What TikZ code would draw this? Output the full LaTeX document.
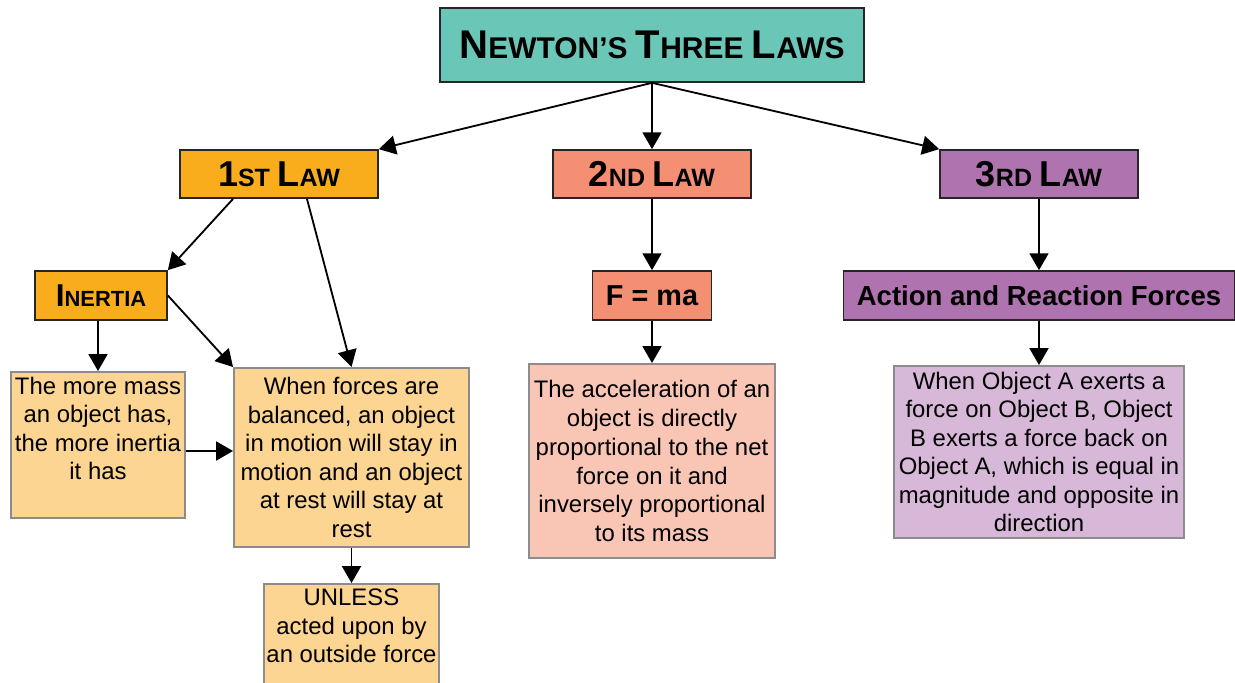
\documentclass[tikz,border=0pt]{standalone}
\usepackage{fontspec}
\setmainfont{Liberation Sans}
\usepackage{xcolor}
\usetikzlibrary{arrows.meta, positioning, calc}

\definecolor{titleteal}{HTML}{6AC7B8}
\definecolor{lawone}{HTML}{F9AD1D}
\definecolor{lawtwo}{HTML}{F48F73}
\definecolor{lawthree}{HTML}{AF73B0}
\definecolor{noteone}{HTML}{FCD592}
\definecolor{notetwo}{HTML}{F9C6B6}
\definecolor{notethree}{HTML}{D8B8D8}
\definecolor{edgegray}{HTML}{8C8C8C}

\newcommand{\bodyfont}{\fontsize{17}{20.3}\selectfont}
\newcommand{\headfont}{\fontsize{19.6}{22}\selectfont\bfseries}
\newcommand{\titlecap}[2]{{\fontsize{28.5}{30}\selectfont #1}{\fontsize{21.3}{24}\selectfont #2}}
\newcommand{\lawcap}[2]{{\fontsize{25.6}{28}\selectfont #1}{\fontsize{17.8}{20}\selectfont #2}}
\newcommand{\smallcap}[2]{{\fontsize{22.5}{25}\selectfont #1}{\fontsize{15.6}{18}\selectfont #2}}

\begin{document}
\begin{tikzpicture}[
    box/.style={rectangle, draw=black!85, line width=1.2pt, inner sep=0pt, align=center, font=\headfont},
    note/.style={rectangle, draw=edgegray, line width=1.4pt, inner sep=0pt, align=center, font=\bodyfont},
    arrow/.style={-{Triangle[length=12pt, width=13.5pt]}, line width=1.3pt}
]
    \useasboundingbox (0, 0) rectangle (30.875, 17.05);

    % Title
    \node[box, fill=titleteal, minimum width=10.6cm, minimum height=1.85cm, font=\fontsize{21.3}{24}\selectfont\bfseries] (title) at (16.3, 15.925)
        {\titlecap{N}{EWTON'S} \titlecap{T}{HREE} \titlecap{L}{AWS}};

    % The three laws
    \node[box, fill=lawone, minimum width=4.95cm, minimum height=1.2cm] (law1) at (6.975, 12.7) {\lawcap{1}{ST} \lawcap{L}{AW}};
    \node[box, fill=lawtwo, minimum width=4.95cm, minimum height=1.2cm] (law2) at (16.3, 12.7) {\lawcap{2}{ND} \lawcap{L}{AW}};
    \node[box, fill=lawthree, minimum width=4.95cm, minimum height=1.2cm] (law3) at (25.975, 12.7) {\lawcap{3}{RD} \lawcap{L}{AW}};

    % Second row
    \node[box, fill=lawone, minimum width=3.3cm, minimum height=1.225cm] (inertia) at (2.525, 9.6625) {\smallcap{I}{NERTIA}};
    \node[box, fill=lawtwo, minimum width=2.975cm, minimum height=1.225cm, font=\fontsize{20.5}{23}\selectfont\bfseries] (fma) at (16.3, 9.6625) {F = ma};
    \node[box, fill=lawthree, minimum width=9.78cm, minimum height=1.225cm] (action) at (25.975, 9.6625) {Action and Reaction Forces};

    % 1st law notes
    \node[note, fill=noteone, minimum width=4.35cm, minimum height=3.65cm] (mass) at (2.45, 5.925)
        {\parbox[c][3.4cm][t]{4.3cm}{\centering The more mass\\an object has,\\the more inertia\\it has}};
    \node[note, fill=noteone, minimum width=5.875cm, minimum height=4.475cm] (balanced) at (8.7875, 5.6125)
        {When forces are\\balanced, an object\\in motion will stay in\\motion and an object\\at rest will stay at\\rest};
    \node[note, fill=noteone, anchor=north, minimum width=4.375cm, minimum height=2.55cm] (unless) at (8.7875, 2.475)
        {\parbox[c][2.3cm][t]{4.3cm}{\centering UNLESS\\acted upon by\\an outside force}};

    % 2nd law note
    \node[note, fill=notetwo, minimum width=6.15cm, minimum height=4.85cm, font=\fontsize{17}{20.6}\selectfont] (accel) at (16.3, 5.525)
        {The acceleration of an\\object is directly\\proportional to the net\\force on it and\\inversely proportional\\to its mass};

    % 3rd law note
    \node[note, fill=notethree, minimum width=7.25cm, minimum height=4.3cm] (object) at (25.975, 5.75)
        {When Object A exerts a\\force on Object B, Object\\B exerts a force back on\\Object A, which is equal in\\magnitude and opposite in\\direction};

    % Arrows
    \draw[arrow] (title.south) -- (law1.north east);
    \draw[arrow] (title.south) -- (law2.north);
    \draw[arrow] (title.south) -- (law3.north west);
    \draw[arrow] ($(law1.south west)!0.27!(law1.south east)$) -- (inertia.north east);
    \draw[arrow] ($(law1.south west)!0.64!(law1.south east)$) -- (balanced.north);
    \draw[arrow] (inertia.east) -- (balanced.north west);
    \draw[arrow] (inertia.south -| mass.north) -- (mass.north);
    \draw[arrow] ([yshift=-0.15cm]mass.east) -- ([yshift=-0.15cm]mass.east -| balanced.west);
    \draw[arrow] (balanced.south) -- (unless.north);
    \draw[arrow] (law2) -- (fma);
    \draw[arrow] (fma) -- (accel);
    \draw[arrow] (law3) -- (action);
    \draw[arrow] (action) -- (object);

\end{tikzpicture}
\end{document}
